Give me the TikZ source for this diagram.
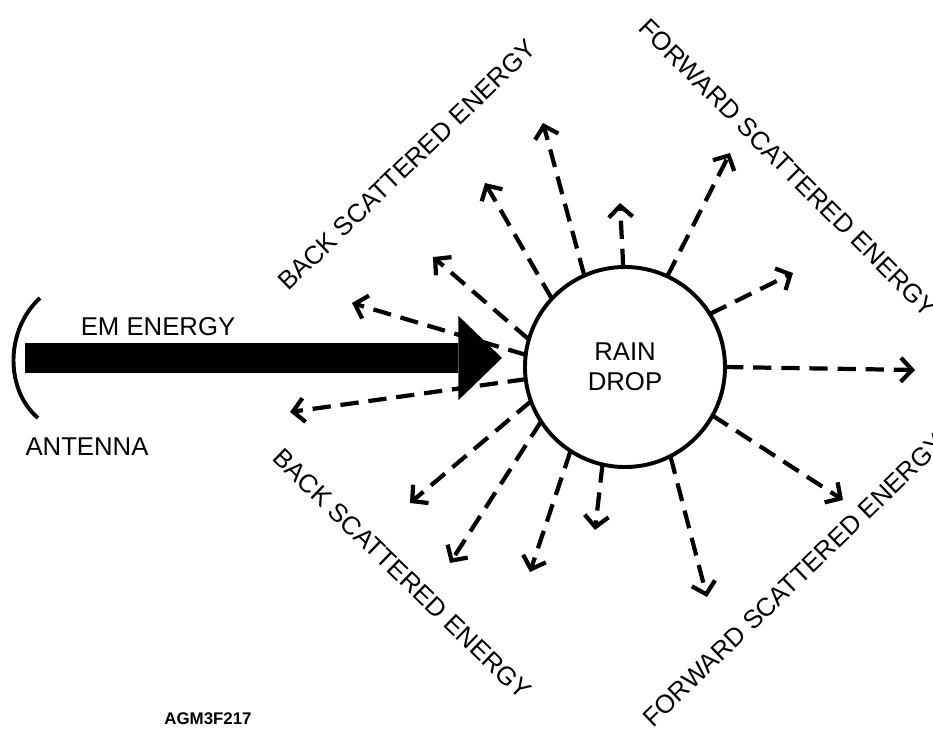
\documentclass[tikz,border=0pt]{standalone}
\usepackage{fontspec}
\setmainfont{Liberation Sans}
\usetikzlibrary{arrows.meta}

\begin{document}
\begin{tikzpicture}[x=0.025cm, y=-0.025cm,
  lbl/.style={font=\fontsize{18.3}{21}\selectfont, inner sep=0pt},
  scatter/.style={line width=3pt, dash pattern=on 13pt off 7pt, -{Straight Barb[length=8pt,width=17pt]}}]

\useasboundingbox (0,0) rectangle (933,729);
\clip (0,0) rectangle (933,729);

% Nodes
\node (drop) [circle, draw, line width=2.8pt, minimum size=5cm, outer sep=0pt, align=center, lbl] at (625,367) {RAIN\\DROP};
\node (em) [lbl] at (158,327) {EM ENERGY};
\node (antenna) [lbl] at (87,447) {ANTENNA};
\node (agm) [font=\bfseries\fontsize{12}{14}\selectfont, inner sep=0pt] at (208,719) {AGM3F217};

\node (backup) [lbl, rotate=44] at (407,165) {BACK SCATTERED ENERGY};
\node (fwdup) [lbl, rotate=-45] at (788,168) {FORWARD SCATTERED ENERGY};
\node (backlow) [lbl, rotate=-44] at (402,574) {BACK SCATTERED ENERGY};
\node (fwdlow) [lbl, rotate=44] at (794,580) {FORWARD SCATTERED ENERGY};

% Antenna dish
\draw [line width=2.8pt] (40,298) .. controls (5,330) and (5,390) .. (38,418);

% EM energy beam
\coordinate (src) at (25,358);
\coordinate (hit) at (502,358);
\draw [line width=22pt, -{Triangle[length=31pt, width=60pt, line width=0pt]}] (src) -- (hit);

% Scatter tips
\coordinate (t1) at (352,303);
\coordinate (t2) at (290,412);
\coordinate (t3) at (433,257);
\coordinate (t4) at (485,183);
\coordinate (t5) at (543,123);
\coordinate (t6) at (620,203);
\coordinate (t7) at (730,153);
\coordinate (t8) at (793,273);
\coordinate (t9) at (915,370);
\coordinate (t10) at (843,500);
\coordinate (t11) at (707,597);
\coordinate (t12) at (595,530);
\coordinate (t13) at (530,572);
\coordinate (t14) at (450,563);
\coordinate (t15) at (410,503);

% Arrows
\draw [scatter] (drop.173) -- (t1);
\draw [scatter] (drop.187) -- (t2);
\draw [scatter] (drop.164) -- (t3);
\draw [scatter] (drop.137) -- (t4);
\draw [scatter] (drop.114) -- (t5);
\draw [scatter] (drop.91) -- (t6);
\draw [scatter] (drop.65) -- (t7);
\draw [scatter] (drop.32) -- (t8);
\draw [scatter] (drop.0) -- (t9);
\draw [scatter] (drop.-29) -- (t10);
\draw [scatter] (drop.-63) -- (t11);
\draw [scatter] (drop.-103) -- (t12);
\draw [scatter] (drop.-123) -- (t13);
\draw [scatter] (drop.-147) -- (t14);
\draw [scatter] (drop.-160) -- (t15);

\end{tikzpicture}
\end{document}
